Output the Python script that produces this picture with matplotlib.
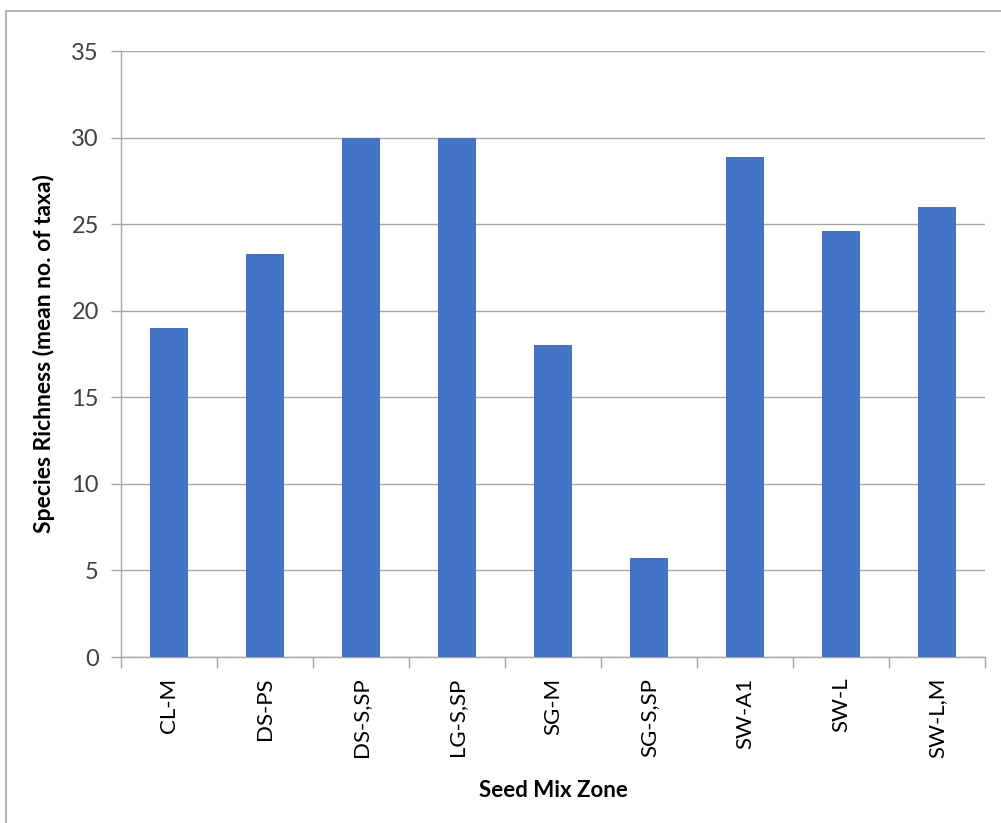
import matplotlib.pyplot as plt
from matplotlib.patches import Rectangle

zones = ['CL-M', 'DS-PS', 'DS-S,SP', 'LG-S,SP', 'SG-M', 'SG-S,SP', 'SW-A1', 'SW-L', 'SW-L,M']
richness = [19.0, 23.3, 30.0, 30.0, 18.0, 5.7, 28.9, 24.6, 26.0]

plt.rcParams['font.family'] = ['Lato', 'DejaVu Sans']

fig = plt.figure(figsize=(10.01, 8.23), dpi=100)
ax = fig.add_axes([0.1209, 0.2017, 0.863, 0.7363])

# chart frame (only the top and left edges fall inside the image)
fig.patches.append(Rectangle((6 / 1001, -0.1), 1.2, 1 - 11 / 823 + 0.1, transform=fig.transFigure,
                             fill=False, edgecolor='#a6a6a6', linewidth=1.2, zorder=0))

x = range(len(zones))
ax.bar(x, richness, width=0.4, color='#4472c4', zorder=3)

ax.set_xlim(-0.5, len(zones) - 0.5)
ax.set_ylim(0, 35)
ax.set_yticks(range(0, 36, 5))
ax.yaxis.grid(True, color='#a6a6a6', linewidth=1.0, zorder=0)

ax.set_xticks(list(x))
ax.set_xticklabels(zones, rotation=90, fontsize=16)
ax.set_xticks([i - 0.5 for i in range(len(zones) + 1)], minor=True)
ax.tick_params(axis='x', which='major', length=0, pad=15)
ax.tick_params(axis='x', which='minor', length=8, color='#a6a6a6', width=1.0)
ax.tick_params(axis='y', length=7, color='#a6a6a6', width=1.0, labelsize=17, pad=9, labelcolor='#404040')
ax.tick_params(axis='x', labelcolor='black')

for side in ['top', 'right']:
    ax.spines[side].set_visible(False)
for side in ['left', 'bottom']:
    ax.spines[side].set_color('#a6a6a6')
    ax.spines[side].set_linewidth(1.0)

ax.set_xlabel('Seed Mix Zone', fontsize=16, fontweight='bold', labelpad=16)
ax.set_ylabel('Species Richness (mean no. of taxa)', fontsize=16.5, fontweight='bold', labelpad=12)

fig.savefig('out.png', dpi=100)
